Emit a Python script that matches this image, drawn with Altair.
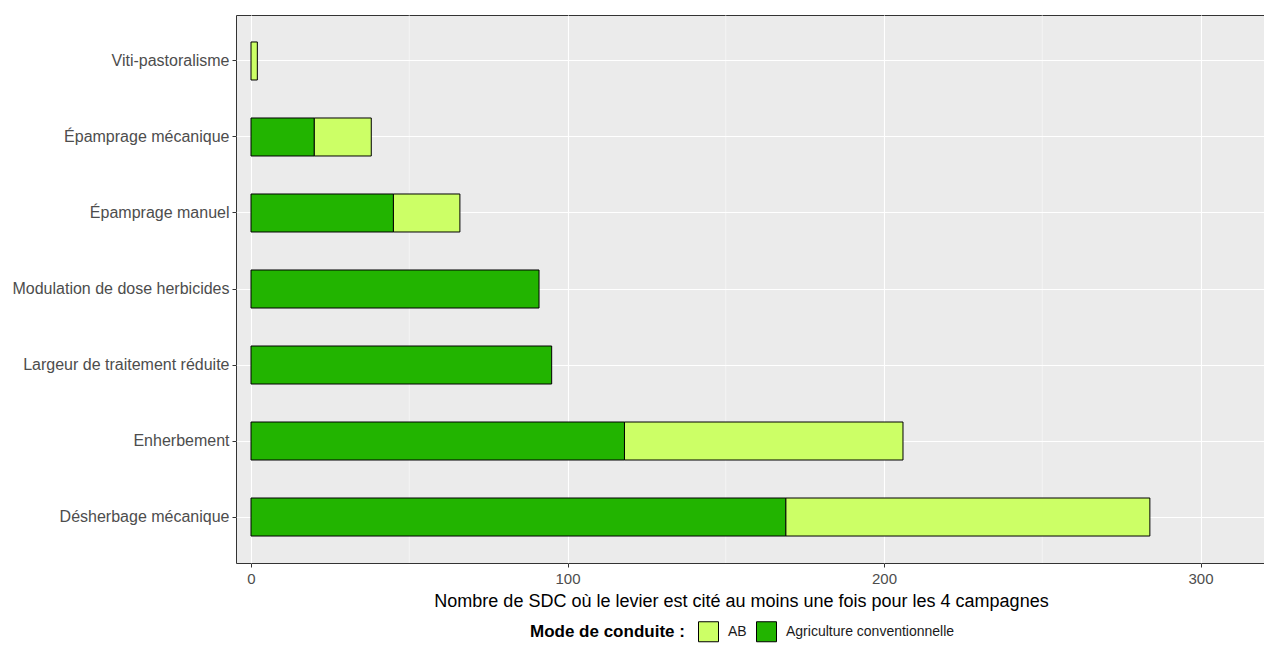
import altair as alt
import pandas as pd

categories = [
    "Viti-pastoralisme",
    "Épamprage mécanique",
    "Épamprage manuel",
    "Modulation de dose herbicides",
    "Largeur de traitement réduite",
    "Enherbement",
    "Désherbage mécanique",
]
conventionnelle = [0, 20, 45, 91, 95, 118, 169]
ab = [2, 18, 21, 0, 0, 88, 115]

modes = ["AB", "Agriculture conventionnelle"]
mode_colors = ["#CCFF66", "#22B400"]
x_ticks = [0, 100, 200, 300]
x_minor = [50, 150, 250]

rows = []
for c, v_conv, v_ab in zip(categories, conventionnelle, ab):
    if v_conv > 0:
        rows.append({"levier": c, "mode": "Agriculture conventionnelle", "n": v_conv, "ord": 0})
    if v_ab > 0:
        rows.append({"levier": c, "mode": "AB", "n": v_ab, "ord": 1})
df = pd.DataFrame(rows)
minor_df = pd.DataFrame({"x": x_minor})

FONT = "Liberation Sans"
x_scale = alt.Scale(domain=[-4.74, 320.06], nice=False, zero=False)
x_axis = alt.Axis(
    title="Nombre de SDC où le levier est cité au moins une fois pour les 4 campagnes",
    values=x_ticks,
    grid=True,
    gridColor="white",
    gridWidth=1.1,
    domain=False,
    tickColor="#333333",
    tickSize=4,
    labelColor="#4D4D4D",
    labelFontSize=15,
    labelFont=FONT,
    labelPadding=4,
    titleFont=FONT,
    titleFontSize=18,
    titleFontWeight="normal",
    titleColor="black",
    titlePadding=6,
    titleX=505,
    titleAnchor="start",
    titleAlign="center",
)

minor = alt.Chart(minor_df).mark_rule(color="white", strokeWidth=0.5).encode(
    x=alt.X("x:Q", scale=x_scale, axis=x_axis)
)

bars = alt.Chart(df).mark_bar(stroke="black", strokeWidth=1).encode(
    y=alt.Y(
        "levier:N",
        sort=categories,
        scale=alt.Scale(paddingInner=0.5, paddingOuter=0.355),
        axis=alt.Axis(
            title=None,
            bandPosition=0.5,
            grid=True,
            gridColor="white",
            gridWidth=1.1,
            domain=False,
            tickColor="#333333",
            tickSize=4,
            labelColor="#4D4D4D",
            labelFontSize=16,
            labelFont=FONT,
            labelPadding=3,
            labelLimit=400,
        ),
    ),
    x=alt.X("n:Q", stack="zero", scale=x_scale, axis=x_axis),
    color=alt.Color(
        "mode:N",
        scale=alt.Scale(domain=modes, range=mode_colors),
        legend=alt.Legend(
            title="Mode de conduite :",
            orient="none",
            legendX=294,
            legendY=606,
            direction="horizontal",
            titleOrient="left",
            titleFont=FONT,
            titleFontSize=17,
            titleFontWeight="bold",
            titleColor="black",
            titlePadding=13,
            labelFont=FONT,
            labelFontSize=14,
            labelColor="#1A1A1A",
            labelLimit=400,
            symbolType="square",
            symbolSize=400,
            symbolStrokeColor="black",
            symbolStrokeWidth=1,
            symbolOpacity=1,
            labelOffset=9,
            columnPadding=7,
        ),
    ),
    order=alt.Order("ord:Q", sort="ascending"),
)

chart = (
    alt.layer(minor, bars)
    .properties(
        width=1028,
        height=548,
        background="white",
        autosize=alt.AutoSizeParams(type="none"),
        padding={"left": 228, "top": 7, "right": 0, "bottom": 82},
    )
    .configure_view(fill="#EBEBEB", stroke="#333333", strokeWidth=1)
)

chart.save("out.html", embed_options={"renderer": "svg", "actions": False})
